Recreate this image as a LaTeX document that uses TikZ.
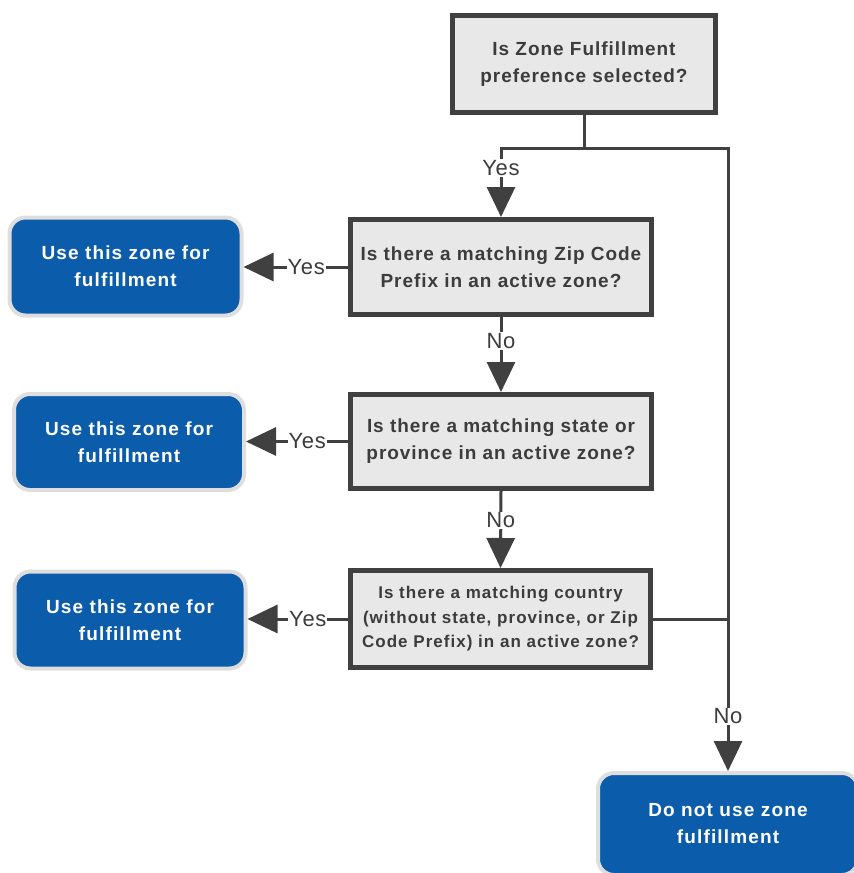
\documentclass[tikz,border=0pt]{standalone}
\usepackage{fontspec}
\setmainfont{Liberation Sans}
\newfontfamily\qfont[LetterSpace=5]{Liberation Sans}
\newfontfamily\qsmallfont[LetterSpace=6]{Liberation Sans}
\newfontfamily\bfont[LetterSpace=6]{Liberation Sans}
\newfontfamily\lfont[LetterSpace=3]{Liberation Sans}
\usetikzlibrary{arrows.meta}
\definecolor{linegray}{HTML}{404040}
\definecolor{boxgray}{HTML}{E8E8E8}
\definecolor{textgray}{HTML}{3C3C3C}
\definecolor{zoneblue}{HTML}{0B5CAB}
\definecolor{halo}{HTML}{DEDEDE}
\tikzset{
  qbox/.style={draw=linegray, line width=5pt, fill=boxgray, text=textgray, align=center,
    font=\qfont\bfseries\fontsize{19}{27}\selectfont, inner sep=0pt},
  resbox/.style={fill=zoneblue, draw=halo, line width=4pt, rounded corners=16pt, text=white,
    align=center, font=\bfont\bfseries\fontsize{19}{27}\selectfont, inner sep=0pt},
  conn/.style={draw=linegray, line width=3pt},
  arr/.style={conn, -{Triangle[width=28pt,length=30pt]}},
  lbl/.style={fill=white, text=textgray, font=\lfont\fontsize{22}{24}\selectfont, inner sep=1pt}
}
\begin{document}
\begin{tikzpicture}[x=1pt,y=-1pt]
\useasboundingbox (0,0) rectangle (854,873);
\clip (0,0) rectangle (854,873);
% question boxes
\node[qbox, minimum width=263pt, minimum height=97pt] (t) at (584,64) {Is Zone Fulfillment\\preference selected?};
\node[qbox, minimum width=301pt, minimum height=95pt] (b2) at (501,267) {Is there a matching Zip Code\\Prefix in an active zone?};
\node[qbox, minimum width=301pt, minimum height=94pt] (b3) at (501,441.5) {Is there a matching state or\\province in an active zone?};
\node[qbox, minimum width=300pt, minimum height=97pt, font=\qsmallfont\bfseries\fontsize{17}{24.5}\selectfont] (b4) at (500.5,619) {Is there a matching country\\(without state, province, or Zip\\Code Prefix) in an active zone?};
% result boxes
\node[resbox, minimum width=232pt, minimum height=98pt] (r2) at (125.5,266.5) {Use this zone for\\fulfillment};
\node[resbox, minimum width=230pt, minimum height=96pt] (r3) at (129,442) {Use this zone for\\fulfillment};
\node[resbox, minimum width=231pt, minimum height=97pt] (r4) at (130,620) {Use this zone for\\fulfillment};
\node[resbox, minimum width=260pt, minimum height=102pt] (fin) at (728,824) {Do not use zone\\fulfillment};
% connectors
\coordinate (split) at (584,148);
\draw[conn] (t.south) -- (split);
\draw[conn] (b4.east) -- (b4.east -| fin.north);
\draw[arr] (split) -| node[lbl, pos=0.645] (ly1) {Yes} (b2.north);
\draw[arr] (split) -| node[lbl, pos=0.956] (ln4) {No} (fin.north);
\draw[arr] (b2.south) -- node[lbl, pos=0.32] (ln2) {No} (b3.north);
\draw[arr] (b3.south) -- node[lbl, pos=0.38] (ln3) {No} (b4.north);
\draw[arr] (b2.west) -- node[lbl, pos=0.4] (ly2) {Yes} (b2.west -| r2.east);
\draw[arr] (b3.west) -- node[lbl, pos=0.4] (ly3) {Yes} (b3.west -| r3.east);
\draw[arr] (b4.west) -- node[lbl, pos=0.4] (ly4) {Yes} (b4.west -| r4.east);
\end{tikzpicture}
\end{document}
